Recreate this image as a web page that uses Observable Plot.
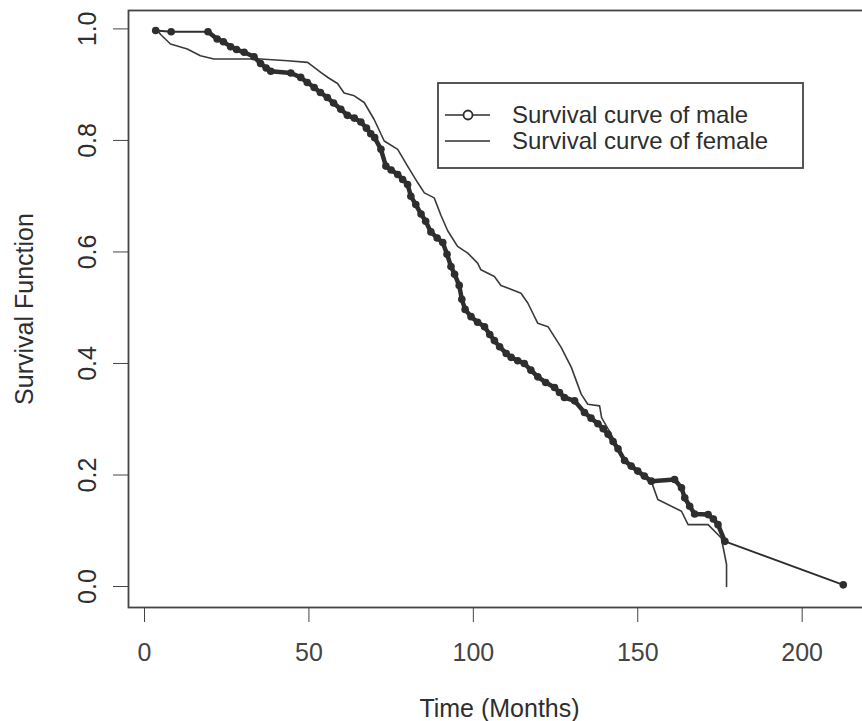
<!DOCTYPE html>
<html>
<head>
<meta charset="utf-8">
<script src="https://cdn.jsdelivr.net/npm/d3@7"></script>
<script src="https://cdn.jsdelivr.net/npm/@observablehq/plot@0.6"></script>
<style>
  html, body { margin: 0; padding: 0; background: #fff; overflow: hidden; }
  #wrap { width: 862px; height: 721px; overflow: hidden; }
  #wrap svg { max-width: none !important; }
</style>
</head>
<body>
<div id="wrap"></div>
<script>
// ---- data ----
const maleTime = [3.4, 8.1, 19.3, 22.1, 24, 26.2, 28, 30.3, 33.3, 35.3, 37, 38.4, 44.5, 47.5, 49.5, 51.6, 53.5, 55.6, 57.5, 59.7, 61.7, 63.8, 65.8, 67.5, 68.8, 70, 71.9, 73.4, 75, 77, 78.5, 80, 81, 82.5, 84.1, 85.5, 87.1, 89, 90.7, 92, 93.2, 94.3, 95.7, 96.5, 97.5, 99.3, 101.3, 103.4, 105, 106.4, 108, 110, 111.5, 113.5, 115.5, 117.5, 119.6, 122, 124.7, 126.2, 127.7, 130.8, 133.8, 135.8, 137.9, 139.5, 141, 142.5, 144, 146, 148, 150, 152, 154.1, 161.2, 163.3, 164.3, 165.8, 167.3, 171.4, 173, 174.4, 176.5, 212.5];
const maleSurv = [0.997, 0.995, 0.995, 0.982, 0.977, 0.968, 0.963, 0.958, 0.950, 0.938, 0.930, 0.924, 0.921, 0.913, 0.904, 0.895, 0.886, 0.877, 0.867, 0.856, 0.845, 0.840, 0.833, 0.822, 0.812, 0.805, 0.784, 0.754, 0.747, 0.739, 0.730, 0.721, 0.700, 0.685, 0.668, 0.655, 0.636, 0.625, 0.617, 0.596, 0.574, 0.560, 0.540, 0.515, 0.497, 0.484, 0.474, 0.466, 0.452, 0.441, 0.430, 0.418, 0.411, 0.405, 0.400, 0.388, 0.376, 0.366, 0.357, 0.348, 0.339, 0.333, 0.312, 0.302, 0.292, 0.283, 0.273, 0.260, 0.247, 0.226, 0.216, 0.207, 0.198, 0.189, 0.192, 0.177, 0.159, 0.144, 0.130, 0.129, 0.121, 0.111, 0.081, 0.003];

const femaleTime = [4.0, 4.9, 7.9, 13, 17, 21.1, 35.3, 43.5, 49.6, 53.6, 56, 58.7, 60.7, 63.8, 66.8, 69.8, 72.9, 77, 80, 83.1, 85.1, 88.1, 90.2, 92.2, 95.2, 98.3, 101.3, 102.3, 106.4, 108.4, 114.5, 116.6, 119.6, 122.7, 126.7, 129.8, 132.8, 134.8, 138.4, 139, 142, 146, 150, 154.1, 156.1, 163.3, 165.3, 171.4, 175.4, 177, 177];
const femaleSurv = [0.997, 0.990, 0.973, 0.964, 0.952, 0.946, 0.946, 0.943, 0.940, 0.922, 0.912, 0.902, 0.885, 0.880, 0.868, 0.838, 0.799, 0.784, 0.754, 0.724, 0.706, 0.697, 0.665, 0.638, 0.610, 0.598, 0.580, 0.568, 0.556, 0.540, 0.526, 0.508, 0.472, 0.466, 0.429, 0.393, 0.345, 0.327, 0.324, 0.303, 0.272, 0.226, 0.206, 0.189, 0.156, 0.135, 0.111, 0.111, 0.087, 0.040, 0.000];

const xTicks = [0, 50, 100, 150, 200];
const yTicks = [0, 0.2, 0.4, 0.6, 0.8, 1.0];
const yTickLabels = ["0.0", "0.2", "0.4", "0.6", "0.8", "1.0"];
const xTitle = "Time (Months)";
const yTitle = "Survival Function";
const seriesNames = ["Survival curve of male", "Survival curve of female"];

const male = maleTime.map((t, i) => ({t, s: maleSurv[i]}));
const female = femaleTime.map((t, i) => ({t, s: femaleSurv[i]}));
// stretch where male events are densely packed (markers overlap into a thick band)
const maleDense = male.filter(d => d.t >= 19.3 && d.t <= 176.5);

const FONT = "'Liberation Sans', Arial, Helvetica, sans-serif";
const INK = "#2e2e2e";
const FS = 25;

const chart = Plot.plot({
  width: 872,
  height: 721,
  marginLeft: 128,
  marginRight: 2,
  marginTop: 10,
  marginBottom: 114,
  x: {domain: [-4.87, 220.78], ticks: xTicks, tickSize: 15, tickPadding: 21,
      tickFormat: d => String(d), label: null},
  y: {domain: [-0.0376, 1.033], ticks: yTicks, tickSize: 15, tickFormat: () => "", label: null},
  style: {fontFamily: FONT, fontSize: FS + "px", background: "#fff", color: "#444", maxWidth: "none"},
  marks: [
    Plot.text(yTicks, {y: d => d, text: (d, i) => yTickLabels[i], frameAnchor: "left", dx: -41,
      rotate: -90, lineAnchor: "middle", textAnchor: "middle", fontSize: FS, fill: INK}),
    Plot.text([xTitle], {text: d => d, frameAnchor: "bottom", dy: 101,
      lineAnchor: "middle", textAnchor: "middle", fontSize: FS, fill: INK}),
    Plot.text([yTitle], {text: d => d, frameAnchor: "left", dx: -104, rotate: -90,
      lineAnchor: "middle", textAnchor: "middle", fontSize: FS, fill: INK}),
    Plot.line(female, {x: "t", y: "s", stroke: "#3a3a3a", strokeWidth: 1.6}),
    Plot.line(male, {x: "t", y: "s", stroke: INK, strokeWidth: 2}),
    Plot.line(maleDense, {x: "t", y: "s", stroke: INK, strokeWidth: 4.5}),
    Plot.dot(male, {x: "t", y: "s", r: 3.8, fill: INK, stroke: "none"}),
    Plot.frame({stroke: "#444", strokeWidth: 1.8})
  ]
});
chart.style.maxWidth = "none";
document.getElementById("wrap").appendChild(chart);

// ---- legend (R-style boxed legend in the upper right) ----
const LFS = 24;
const svg = d3.select(chart);
const lg = svg.append("g").attr("font-family", FONT).attr("font-size", LFS)
  .attr("fill", INK).attr("text-anchor", "start");
lg.append("rect").attr("x", 438).attr("y", 83).attr("width", 365).attr("height", 85)
  .attr("fill", "#fff").attr("stroke", "#444").attr("stroke-width", 1.8);
const rows = [115, 141];
lg.append("line").attr("x1", 445).attr("x2", 490).attr("y1", rows[0]).attr("y2", rows[0])
  .attr("stroke", INK).attr("stroke-width", 1.6);
lg.append("circle").attr("cx", 468).attr("cy", rows[0]).attr("r", 4.5)
  .attr("fill", "#fff").attr("stroke", INK).attr("stroke-width", 1.8);
lg.append("line").attr("x1", 445).attr("x2", 490).attr("y1", rows[1]).attr("y2", rows[1])
  .attr("stroke", INK).attr("stroke-width", 1.6);
seriesNames.forEach((name, i) => {
  lg.append("text").attr("x", 512).attr("y", rows[i]).attr("dy", "0.35em")
    .attr("text-anchor", "start").text(name);
});
</script>
</body>
</html>
